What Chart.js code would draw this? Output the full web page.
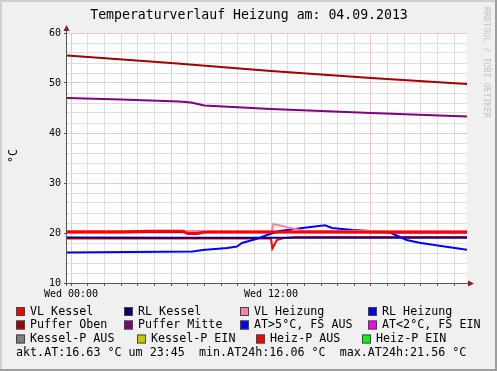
<!DOCTYPE html>
<html>
<head>
<meta charset="utf-8">
<script src="https://cdn.jsdelivr.net/npm/chart.js@4/dist/chart.umd.min.js"></script>
<style>
  html, body { margin: 0; padding: 0; background: #f0f0f0; }
  #wrap { width: 497px; height: 371px; position: relative; }
</style>
</head>
<body>
<div id="wrap"><canvas id="chart" width="497" height="371"></canvas></div>
<script>
'use strict';

// Zeitachse in Stunden ab Wed 00:00
const titleText = 'Temperaturverlauf Heizung am: 04.09.2013';
const yTitle = '°C';
const xLabels = { 0: 'Wed 00:00', 12: 'Wed 12:00' };
const footerText = 'akt.AT:16.63 °C um 23:45  min.AT24h:16.06 °C  max.AT24h:21.56 °C';

const vlKesselT = [-0.24, 3, 4.7, 6.7, 7.0, 7.6, 8.0, 12, 16, 20, 23.76];
const vlKesselV = [20.2, 20.2, 20.35, 20.35, 19.9, 19.9, 20.2, 20.2, 20.2, 20.15, 20.15];

const rlKesselT = [-0.24, 6, 12, 18, 23.76];
const rlKesselV = [19.1, 19.05, 19.05, 19.05, 19.05];

const vlHeizungT = [-0.24, 6.8, 7.3, 12.05, 12.14, 13.3, 14, 23.76];
const vlHeizungV = [20.4, 20.4, 20.3, 20.3, 21.8, 20.9, 20.4, 20.4];

const rlHeizungT = [-0.24, 6.8, 7.1, 7.7, 8.0, 23.76];
const rlHeizungV = [20.2, 20.2, 20.3, 20.3, 20.2, 20.2];

const heizPT = [-0.24, 12.0, 12.08, 12.35, 12.7, 13.5, 23.76];
const heizPV = [18.9, 18.9, 16.9, 18.6, 18.95, 19.2, 19.2];

const pufferObenT = [-0.24, 6, 12, 18, 23.76];
const pufferObenV = [55.5, 54.0, 52.4, 51.0, 49.8];

const pufferMitteT = [-0.24, 3, 6.5, 7.2, 8.0, 12, 18, 23.76];
const pufferMitteV = [47.0, 46.7, 46.3, 46.1, 45.5, 44.8, 44.0, 43.3];

const aussenT = [-0.24, 7.3, 7.9, 9.36, 9.96, 10.26, 10.9, 11.3, 11.76, 12.12, 12.5, 13.9,
  15.24, 15.66, 16.9, 17.94, 19.14, 20.14, 20.9, 22.1, 23.76];
const aussenV = [16.1, 16.3, 16.6, 17.0, 17.3, 18.0, 18.6, 19.0, 19.6, 20.0, 20.4, 21.0,
  21.56, 21.0, 20.6, 20.4, 20.1, 18.6, 18.07, 17.47, 16.63];

const xTicks = Array.from({ length: 24 }, (_, i) => i);
const yTicks = [10, 12, 14, 16, 18, 20, 22, 24, 26, 28, 30, 32, 34, 36, 38, 40, 42, 44, 46, 48, 50, 52, 54, 56, 58, 60];

const legendNames = [
  ['VL Kessel', 'RL Kessel', 'VL Heizung', 'RL Heizung'],
  ['Puffer Oben', 'Puffer Mitte', 'AT>5°C, FS AUS', 'AT<2°C, FS EIN'],
  ['Kessel-P AUS', 'Kessel-P EIN', 'Heiz-P AUS', 'Heiz-P EIN'],
];
const legendColors = [
  ['#ff0000', '#000080', '#ff80a0', '#0000ff'],
  ['#a00000', '#800080', '#0000ff', '#ff00ff'],
  ['#808080', '#c8c800', '#ff0000', '#00ff00'],
];

function pts(t, v) {
  return t.map((x, i) => ({ x: x, y: v[i] }));
}

const mono = '"DejaVu Sans Mono", monospace';

// Rahmen, Titel, Pfeile und Legende im RRDtool-Stil
const rrdStyle = {
  id: 'rrdStyle',
  beforeDraw(chart) {
    const c = chart.ctx;
    const a = chart.chartArea;
    c.save();
    c.fillStyle = '#f0f0f0';
    c.fillRect(0, 0, chart.width, chart.height);
    c.fillStyle = '#ffffff';
    c.fillRect(a.left, a.top, a.right - a.left, a.bottom - a.top);
    // Rahmen
    c.fillStyle = '#cfcfcf';
    c.fillRect(0, 0, chart.width, 2);
    c.fillRect(0, 0, 2, chart.height);
    c.fillStyle = '#9e9e9e';
    c.fillRect(0, chart.height - 2, chart.width, 2);
    c.fillRect(chart.width - 2, 0, 2, chart.height);
    c.restore();
  },
  afterDraw(chart) {
    const c = chart.ctx;
    const a = chart.chartArea;
    c.save();
    // Achsen
    c.strokeStyle = '#555555';
    c.lineWidth = 1;
    c.beginPath();
    c.moveTo(a.left - 0.5, a.bottom + 3);
    c.lineTo(a.left - 0.5, a.top - 5);
    c.moveTo(a.left - 3, a.bottom + 0.5);
    c.lineTo(a.right + 5, a.bottom + 0.5);
    c.stroke();
    c.fillStyle = '#8b1a1a';
    c.beginPath();
    c.moveTo(a.left - 0.5, a.top - 8);
    c.lineTo(a.left - 3.5, a.top - 2);
    c.lineTo(a.left + 2.5, a.top - 2);
    c.closePath();
    c.fill();
    c.beginPath();
    c.moveTo(a.right + 7, a.bottom + 0.5);
    c.lineTo(a.right + 1, a.bottom - 2.5);
    c.lineTo(a.right + 1, a.bottom + 3.5);
    c.closePath();
    c.fill();

    // Titel
    c.fillStyle = '#000000';
    c.textBaseline = 'middle';
    c.textAlign = 'center';
    c.font = '13.2px ' + mono;
    c.fillText(titleText, 249, 16);

    // Y-Achsentitel
    c.save();
    c.translate(14, 156);
    c.rotate(-Math.PI / 2);
    c.font = '11.7px ' + mono;
    c.fillText(yTitle, 0, 0);
    c.restore();

    // Wasserzeichen
    c.save();
    c.translate(486, 7);
    c.rotate(Math.PI / 2);
    c.textAlign = 'left';
    c.fillStyle = '#c4c4c4';
    c.font = '8.4px ' + mono;
    c.fillText('RRDTOOL / TOBI OETIKER', 0, 0);
    c.restore();

    // Legende
    const colX = [[16, 124, 240, 368], [16, 124, 240, 368], [16, 137, 256, 362]];
    const rowY = [311.5, 325, 339];
    c.textAlign = 'left';
    c.font = '11.7px ' + mono;
    legendNames.forEach((row, r) => {
      row.forEach((name, k) => {
        const x = colX[r][k];
        const y = rowY[r];
        c.fillStyle = legendColors[r][k];
        c.fillRect(x, y - 4.5, 9, 9);
        c.strokeStyle = '#444444';
        c.strokeRect(x + 0.5, y - 4, 8, 8);
        c.fillStyle = '#000000';
        c.fillText(name, x + 14, y);
      });
    });
    c.fillText(footerText, 16, 352.5);
    c.restore();
  },
};

const ctx = document.getElementById('chart').getContext('2d');
new Chart(ctx, {
  type: 'line',
  data: {
    datasets: [
      { label: 'VL Kessel', data: pts(vlKesselT, vlKesselV), borderColor: '#ff0000', borderWidth: 3 },
      { label: 'VL Heizung', data: pts(vlHeizungT, vlHeizungV), borderColor: '#ff80a0', borderWidth: 2 },
      { label: 'RL Heizung', data: pts(rlHeizungT, rlHeizungV), borderColor: '#0000ff', borderWidth: 2 },
      { label: 'AT', data: pts(aussenT, aussenV), borderColor: '#0000ff', borderWidth: 2 },
      { label: 'RL Kessel', data: pts(rlKesselT, rlKesselV), borderColor: '#000080', borderWidth: 2 },
      { label: 'Heiz-P AUS', data: pts(heizPT, heizPV), borderColor: '#ff0000', borderWidth: 2 },
      { label: 'Puffer Oben', data: pts(pufferObenT, pufferObenV), borderColor: '#a00000', borderWidth: 2 },
      { label: 'Puffer Mitte', data: pts(pufferMitteT, pufferMitteV), borderColor: '#800080', borderWidth: 2 },
    ],
  },
  options: {
    responsive: false,
    animation: false,
    events: [],
    elements: { point: { radius: 0 }, line: { tension: 0, fill: false } },
    layout: { padding: { top: 33, right: 30, left: 0, bottom: 0 } },
    plugins: { legend: { display: false }, title: { display: false }, tooltip: { enabled: false } },
    scales: {
      x: {
        type: 'linear',
        min: -0.24,
        max: 23.76,
        afterBuildTicks: scale => { scale.ticks = xTicks.map(v => ({ value: v })); },
        afterFit: scale => { scale.height = 88; },
        border: { display: false },
        grid: {
          color: c => (c.tick && c.tick.value % 6 === 0 ? '#f2c4c4' : '#dedede'),
          tickColor: '#555555',
          tickLength: 3,
        },
        ticks: {
          autoSkip: false,
          maxRotation: 0,
          padding: 2,
          color: '#000000',
          font: { family: mono, size: 10 },
          callback: v => xLabels[v] || '',
        },
      },
      y: {
        min: 10,
        max: 60,
        afterBuildTicks: scale => { scale.ticks = yTicks.map(v => ({ value: v })); },
        afterFit: scale => { scale.width = 67; },
        border: { display: false },
        grid: {
          color: c => (c.tick && c.tick.value % 10 === 0 ? '#f2c4c4' : '#dedede'),
          tickColor: c => (c.tick && c.tick.value % 10 === 0 ? '#555555' : 'rgba(0,0,0,0)'),
          tickLength: 3,
        },
        ticks: {
          autoSkip: false,
          padding: 3,
          color: '#000000',
          font: { family: mono, size: 10 },
          callback: v => (v % 10 === 0 ? String(v) : ''),
        },
      },
    },
  },
  plugins: [rrdStyle],
});
</script>
</body>
</html>
